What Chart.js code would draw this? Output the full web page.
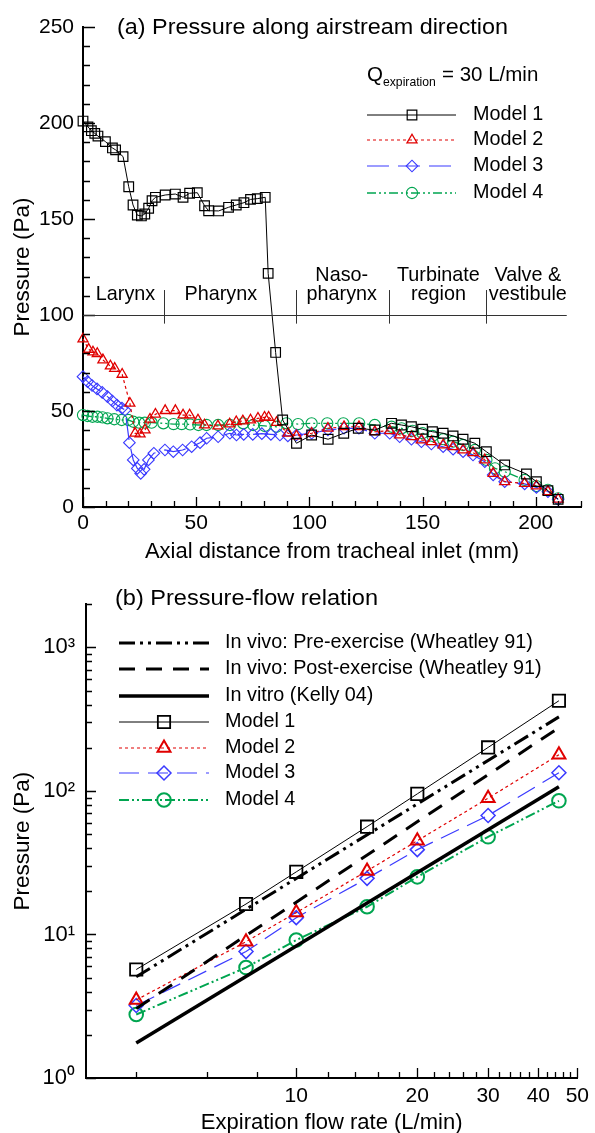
<!DOCTYPE html>
<html>
<head>
<meta charset="utf-8">
<script src="https://cdn.jsdelivr.net/npm/chart.js@4.4.1/dist/chart.umd.min.js"></script>
<style>
html, body { margin: 0; padding: 0; background: #fff; }
#wrap { position: relative; width: 595px; height: 1133px; }
.box { position: absolute; left: 0; width: 595px; }
</style>
</head>
<body>
<div id="wrap">
  <div class="box" style="top:0;height:580px"><canvas id="chartA"></canvas></div>
  <div class="box" style="top:580px;height:553px"><canvas id="chartB"></canvas></div>
</div>
<script>
// ---- (a) pressure along the airstream, Q = 30 L/min ----
var m1X = [0, 2.2, 3.7, 5.2, 6.6, 9.9, 13, 14.4, 17.7, 20.2, 22.1, 24, 25.8, 27.3, 29, 30.5, 32, 36.3, 40.8, 44.2, 47.1, 50.5, 53.7, 55.5, 59.9, 64.3, 67.7, 71.1, 74, 77, 80.5, 81.8, 85.1, 88.2, 94.3, 101, 108.3, 115.2, 121.6, 128.9, 136.3, 140.7, 145.1, 150, 154.4, 159.1, 163.5, 167.9, 173.1, 178.2, 186.3, 195.9, 200.3, 205.4, 209.9];
var m1Y = [201, 198, 196, 194.6, 193.2, 190.3, 187, 186, 182.5, 166.8, 157.3, 152, 151.6, 152.6, 155.6, 159.5, 161.3, 162.5, 163, 161.3, 163.4, 163.7, 156.9, 154.3, 154.2, 156.1, 157.3, 158.5, 160.2, 160.6, 161.3, 121.7, 80.5, 45.3, 33.2, 37.5, 35.3, 38.4, 41, 40.1, 43.6, 42.7, 41.8, 40.5, 39.2, 38.4, 37, 35.3, 33.2, 28.8, 21.9, 17.2, 13.2, 8.5, 4];
var m2X = [0, 2.5, 4.4, 6.3, 8.8, 12.1, 14, 17.3, 20.7, 23, 25.2, 27.4, 29.6, 32, 36.3, 40.8, 44.2, 47.1, 50.8, 53.7, 59.6, 64.8, 67.7, 70.6, 74, 77.3, 80.2, 82, 85.5, 90.6, 94.3, 101, 108.2, 115.3, 121.9, 128.9, 135.5, 139.9, 145.1, 149.5, 153.9, 159.1, 163.5, 167.9, 172.3, 177.5, 181.2, 186.3, 195.1, 200.3, 205.4, 209.9];
var m2Y = [87.5, 82.1, 80.7, 79.9, 76.6, 73.4, 72.2, 69.1, 54, 38.4, 38, 40.1, 45.7, 48.3, 50.2, 50.2, 47.9, 47.9, 45.3, 42.7, 42.2, 43.2, 44.4, 44.8, 45.3, 46.2, 46.7, 46.7, 44, 38.4, 37, 38.4, 41, 41.8, 41.8, 39.2, 39.7, 37.5, 36.6, 34.9, 34, 32.3, 31.4, 29.7, 28.3, 24.5, 17.5, 13.2, 12.3, 10.9, 8, 4];
var m3X = [0, 2, 4, 6.2, 8.5, 10.8, 13, 15, 17.2, 18.6, 20.5, 22.2, 24, 25.5, 27, 28.9, 31.3, 36.2, 39.9, 44, 48, 51.7, 54.6, 59.7, 64.9, 67.8, 71, 75, 79, 83, 87, 90.5, 94.3, 101, 108.2, 115.3, 121.9, 128.9, 135.5, 139.9, 145.1, 149.5, 153.9, 159.1, 163.5, 167.9, 172.3, 177.5, 181.2, 186.3, 195.1, 200.3, 205.4, 209.9];
var m3Y = [67.9, 65.3, 63.3, 61.5, 59.7, 57.5, 55.2, 53.1, 51.5, 50.5, 33.5, 24.5, 20.1, 17.5, 19.6, 24.5, 28, 29.7, 28.8, 29.7, 31.4, 33.5, 35.8, 36.6, 38.4, 37.5, 37.8, 37.8, 38.2, 37.8, 37.5, 37, 37.5, 38.4, 40.1, 41, 41, 38.4, 38.4, 36.6, 35.3, 34, 32.8, 31.4, 30.1, 28.8, 27.1, 23.6, 16.7, 13.2, 12, 10.2, 8, 4];
var m4X = [0, 2, 4.2, 6.4, 8.6, 10.8, 13.8, 17.1, 20, 22.2, 24.8, 27.3, 30.3, 35.5, 40, 43.6, 47.3, 51, 54.6, 59.7, 64.9, 70.8, 75.2, 80.3, 85.5, 89.9, 95, 101, 107.9, 115, 122, 128.9, 136.3, 140.7, 145.6, 150, 154.4, 159.1, 163.5, 167.9, 173.1, 178.2, 182, 186.3, 195.1, 200.3, 205.4, 209.9];
var m4Y = [47.9, 47.4, 47, 47, 46.7, 46.2, 45.7, 45.3, 45.3, 44.4, 43.9, 43.9, 43.9, 43.6, 43.2, 43.2, 43, 42.7, 42.7, 42.7, 42.7, 43.6, 42.7, 42.2, 41.8, 43.6, 43.2, 43.6, 43.6, 43.6, 43.6, 42.7, 41.8, 41, 39.7, 38.4, 37, 35.3, 34, 32.3, 29.7, 24.5, 20.1, 18.4, 14.1, 10.9, 8.9, 4.5];

var aXTicks = [0, 50, 100, 150, 200];
var aYTicks = [0, 50, 100, 150, 200, 250];
var regionEdges = [36, 94.2, 135.4, 177.9];
var regionNames = [['Larynx'], ['Pharynx'], ['Naso-', 'pharynx'], ['Turbinate', 'region'], ['Valve &', 'vestibule']];
var regionCenters = [18.8, 60.9, 114.3, 157, 196.5];
var regionLevel = 100;
var regionEnd = 213.7;

// ---- (b) pressure-flow relation ----
var flows = [4, 7.5, 10, 15, 20, 30, 45];
var m1P = [5.7, 16.3, 27.3, 56.4, 95.4, 201, 425];
var m2P = [3.5, 8.9, 14.2, 27.7, 45, 89, 179];
var m3P = [3.2, 7.6, 13.1, 24.6, 39, 67.4, 134];
var m4P = [2.77, 5.88, 9.14, 15.6, 25.2, 47.9, 85.4];
var refFlow = [4, 45];
var preP = [5.07, 328];
var postP = [3.05, 276];
var kellyP = [1.75, 107];

var bXTicks = [10, 20, 30, 40, 50];
var bXLabels = ['10', '20', '30', '40', '50'];
var bXMinor = [4, 6, 8, 12, 14, 16, 18, 22, 24, 26, 28, 32, 34, 36, 38, 42, 44, 46, 48];
var bYTicks = [1, 10, 100, 1000];
var bYLabels = ['10\u2070', '10\u00b9', '10\u00b2', '10\u00b3'];

var FONT = '"Liberation Sans", Arial, Helvetica, sans-serif';
Chart.defaults.font.family = FONT;
Chart.defaults.color = '#000';

var RED = '#e00000', BLUE = '#3a3aff', GREEN = '#00a550';

function pairs(xs, ys) {
    return xs.map(function (x, i) { return { x: x, y: ys[i] }; });
}

function text(ctx, str, x, y, size, align, sx, base) {
    ctx.save();
    ctx.font = size + 'px ' + FONT;
    ctx.fillStyle = '#000';
    ctx.textAlign = align || 'left';
    ctx.textBaseline = base || 'middle';
    ctx.translate(x, y);
    ctx.scale(sx || 1, 1);
    ctx.fillText(str, 0, 0);
    ctx.restore();
}

// stretch a text to the width it has in the picture
function fitText(ctx, str, x, y, size, width) {
    ctx.save();
    ctx.font = size + 'px ' + FONT;
    var w = ctx.measureText(str).width;
    ctx.restore();
    text(ctx, str, x, y, size, 'left', width / w);
}

function inwardTicks(chart, id, values, len, lw) {
    var s = chart.scales[id], a = chart.chartArea, ctx = chart.ctx;
    ctx.save();
    ctx.strokeStyle = '#000';
    ctx.lineWidth = lw || 1.3;
    ctx.beginPath();
    values.forEach(function (v) {
        var p = Math.round(s.getPixelForValue(v)) + 0.5;
        if (s.isHorizontal()) { ctx.moveTo(p, a.bottom); ctx.lineTo(p, a.bottom - len); }
        else { ctx.moveTo(a.left, p); ctx.lineTo(a.left + len, p); }
    });
    ctx.stroke();
    ctx.restore();
}

function legendRow(ctx, ds, x1, x2, xm, y, label, lx) {
    ctx.save();
    ctx.strokeStyle = ds.borderColor;
    ctx.lineWidth = ds.borderWidth;
    ctx.setLineDash(ds.borderDash || []);
    ctx.beginPath();
    ctx.moveTo(x1, y);
    ctx.lineTo(x2, y);
    ctx.stroke();
    ctx.restore();
    if (ds.pointRadius) {
        ctx.save();
        ctx.strokeStyle = ds.pointBorderColor;
        ctx.fillStyle = 'rgba(0,0,0,0)';
        ctx.lineWidth = ds.pointBorderWidth;
        Chart.helpers.drawPoint(ctx, { pointStyle: ds.pointStyle, radius: ds.pointRadius, rotation: 0, borderWidth: ds.pointBorderWidth }, xm, y);
        ctx.restore();
    }
    text(ctx, label, lx, y, 19.8, 'left');
}

var dsA = [
    { label: 'Model 1', data: pairs(m1X, m1Y), borderColor: '#000', borderWidth: 1, borderDash: [],
      pointStyle: 'rect', pointRadius: 6.8, pointBorderColor: '#000', pointBorderWidth: 1.2 },
    { label: 'Model 2', data: pairs(m2X, m2Y), borderColor: RED, borderWidth: 1.2, borderDash: [3, 3],
      pointStyle: 'triangle', pointRadius: 5.8, pointBorderColor: RED, pointBorderWidth: 1.3 },
    { label: 'Model 3', data: pairs(m3X, m3Y), borderColor: BLUE, borderWidth: 1.2, borderDash: [22, 9],
      pointStyle: 'rectRot', pointRadius: 5.8, pointBorderColor: BLUE, pointBorderWidth: 1.1 },
    { label: 'Model 4', data: pairs(m4X, m4Y), borderColor: GREEN, borderWidth: 1.3, borderDash: [9, 3, 2, 3, 2, 3],
      pointStyle: 'circle', pointRadius: 5.6, pointBorderColor: GREEN, pointBorderWidth: 1.1 }
];
dsA.forEach(function (d) {
    d.pointBackgroundColor = 'rgba(0,0,0,0)';
    d.tension = 0;
    d.clip = false;
    d.pointHoverRadius = d.pointRadius;
});

var annotateA = {
    id: 'annotateA',
    afterDraw: function (chart) {
        var ctx = chart.ctx, xs = chart.scales.x, ys = chart.scales.y;
        var minorX = [], minorY = [];
        for (var v = 10; v <= 220; v += 10) if (v % 50) minorX.push(v);
        for (var w = 10; w <= 250; w += 10) if (w % 50) minorY.push(w);
        inwardTicks(chart, 'x', aXTicks, 10);
        inwardTicks(chart, 'x', minorX, 6);
        inwardTicks(chart, 'y', aYTicks, 12);
        inwardTicks(chart, 'y', minorY, 7);

        // anatomical regions
        var yl = Math.round(ys.getPixelForValue(regionLevel)) + 0.5;
        ctx.save();
        ctx.strokeStyle = '#333';
        ctx.lineWidth = 1;
        ctx.beginPath();
        ctx.moveTo(xs.getPixelForValue(0), yl);
        ctx.lineTo(xs.getPixelForValue(regionEnd), yl);
        regionEdges.forEach(function (e) {
            var px = Math.round(xs.getPixelForValue(e)) + 0.5;
            ctx.moveTo(px, ys.getPixelForValue(95.5));
            ctx.lineTo(px, ys.getPixelForValue(113));
        });
        ctx.stroke();
        ctx.restore();
        regionNames.forEach(function (lines, i) {
            var cx = xs.getPixelForValue(regionCenters[i]);
            var base = yl - 16;
            for (var k = lines.length - 1; k >= 0; k--) {
                text(ctx, lines[k], cx, base, 19.8, 'center', 1, 'alphabetic');
                base -= 19;
            }
        });

        fitText(ctx, '(a) Pressure along airstream direction', 117, 28, 22, 391);

        text(ctx, 'Q', 367, 75, 20.5, 'left');
        text(ctx, 'expiration', 383, 83, 12.2, 'left');
        text(ctx, '= 30 L/min', 442, 75, 20.5, 'left');
        var rows = [115, 140, 166, 193];
        dsA.forEach(function (d, i) {
            legendRow(ctx, d, 367, 456, 412, rows[i], d.label, 473);
        });
    }
};

new Chart(document.getElementById('chartA'), {
    type: 'line',
    data: { datasets: dsA },
    options: {
        responsive: true,
        maintainAspectRatio: false,
        animation: false,
        layout: { padding: { left: 0, top: 27, right: 14, bottom: 0 } },
        plugins: { legend: { display: false }, tooltip: { enabled: false } },
        scales: {
            x: {
                type: 'linear', min: 0, max: 220,
                grid: { display: false, drawTicks: false },
                border: { display: true, color: '#000', width: 2 },
                afterBuildTicks: function (s) { s.ticks = aXTicks.map(function (v) { return { value: v }; }); },
                afterFit: function (s) { s.height = 73; },
                ticks: { font: { size: 21 }, padding: 4, maxRotation: 0, autoSkip: false },
                title: { display: true, text: 'Axial distance from tracheal inlet (mm)', font: { size: 22 }, padding: { top: 0, bottom: 15 } }
            },
            y: {
                type: 'linear', min: 0, max: 250,
                grid: { display: false, drawTicks: false },
                border: { display: true, color: '#000', width: 2 },
                afterBuildTicks: function (s) { s.ticks = aYTicks.map(function (v) { return { value: v }; }); },
                afterFit: function (s) { s.width = 83; },
                ticks: { font: { size: 21 }, padding: 9, autoSkip: false },
                title: { display: true, text: 'Pressure (Pa)', font: { size: 22.5 }, padding: { top: 9, bottom: 0 } }
            }
        }
    },
    plugins: [annotateA]
});

var dsB = [
    { label: 'In vivo: Pre-exercise (Wheatley 91)', data: pairs(refFlow, preP), borderColor: '#000', borderWidth: 3, borderDash: [16, 5, 3, 5, 3, 5], pointRadius: 0 },
    { label: 'In vivo: Post-exercise (Wheatley 91)', data: pairs(refFlow, postP), borderColor: '#000', borderWidth: 3, borderDash: [16, 11], pointRadius: 0 },
    { label: 'In vitro (Kelly 04)', data: pairs(refFlow, kellyP), borderColor: '#000', borderWidth: 3.5, borderDash: [], pointRadius: 0 },
    { label: 'Model 1', data: pairs(flows, m1P), borderColor: '#000', borderWidth: 1, borderDash: [],
      pointStyle: 'rect', pointRadius: 8.7, pointBorderColor: '#000', pointBorderWidth: 1.8 },
    { label: 'Model 2', data: pairs(flows, m2P), borderColor: RED, borderWidth: 1.2, borderDash: [3, 3],
      pointStyle: 'triangle', pointRadius: 7.5, pointBorderColor: RED, pointBorderWidth: 2 },
    { label: 'Model 3', data: pairs(flows, m3P), borderColor: BLUE, borderWidth: 1.2, borderDash: [20, 9],
      pointStyle: 'rectRot', pointRadius: 7, pointBorderColor: BLUE, pointBorderWidth: 1.5 },
    { label: 'Model 4', data: pairs(flows, m4P), borderColor: GREEN, borderWidth: 2, borderDash: [10, 3, 2, 3, 2, 3],
      pointStyle: 'circle', pointRadius: 6.8, pointBorderColor: GREEN, pointBorderWidth: 2 }
];
dsB.forEach(function (d) {
    d.pointBackgroundColor = 'rgba(0,0,0,0)';
    d.tension = 0;
    d.clip = false;
    d.pointHoverRadius = d.pointRadius;
});

var annotateB = {
    id: 'annotateB',
    afterDraw: function (chart) {
        var ctx = chart.ctx;
        var minorY = [];
        [1, 10, 100, 1000].forEach(function (d) {
            for (var k = 2; k <= 9; k++) if (d * k <= 2000) minorY.push(d * k);
        });
        inwardTicks(chart, 'x', bXTicks, 10);
        inwardTicks(chart, 'x', bXMinor, 6);
        inwardTicks(chart, 'y', bYTicks, 10);
        inwardTicks(chart, 'y', minorY, 6);

        fitText(ctx, '(b) Pressure-flow relation', 115, 19, 22, 263);
        var rows = [63, 89, 116, 142, 168, 193, 220];
        dsB.forEach(function (d, i) {
            legendRow(ctx, d, 119, 209, 164, rows[i], d.label, 225);
        });
    }
};

new Chart(document.getElementById('chartB'), {
    type: 'line',
    data: { datasets: dsB },
    options: {
        responsive: true,
        maintainAspectRatio: false,
        animation: false,
        layout: { padding: { left: 0, top: 16, right: 12, bottom: 0 } },
        plugins: { legend: { display: false }, tooltip: { enabled: false } },
        scales: {
            x: {
                type: 'logarithmic', min: 3, max: 50,
                grid: { display: false, drawTicks: false },
                border: { display: true, color: '#000', width: 2 },
                afterBuildTicks: function (s) { s.ticks = bXTicks.map(function (v) { return { value: v }; }); },
                afterFit: function (s) { s.height = 55; },
                ticks: { font: { size: 21 }, padding: 6, maxRotation: 0, autoSkip: false,
                         callback: function (v) { return bXLabels[bXTicks.indexOf(v)]; } },
                title: { display: true, text: 'Expiration flow rate (L/min)', font: { size: 22, lineHeight: 1 }, padding: { top: 0, bottom: -1 } }
            },
            y: {
                type: 'logarithmic', min: 1, max: 2000,
                grid: { display: false, drawTicks: false },
                border: { display: true, color: '#000', width: 2 },
                afterBuildTicks: function (s) { s.ticks = bYTicks.map(function (v) { return { value: v }; }); },
                afterFit: function (s) { s.width = 86; },
                ticks: { font: { size: 22 }, padding: 11, autoSkip: false,
                         callback: function (v) { return bYLabels[bYTicks.indexOf(v)]; } },
                title: { display: true, text: 'Pressure (Pa)', font: { size: 22.5 }, padding: { top: 9, bottom: 0 } }
            }
        }
    },
    plugins: [annotateB]
});
</script>
</body>
</html>
